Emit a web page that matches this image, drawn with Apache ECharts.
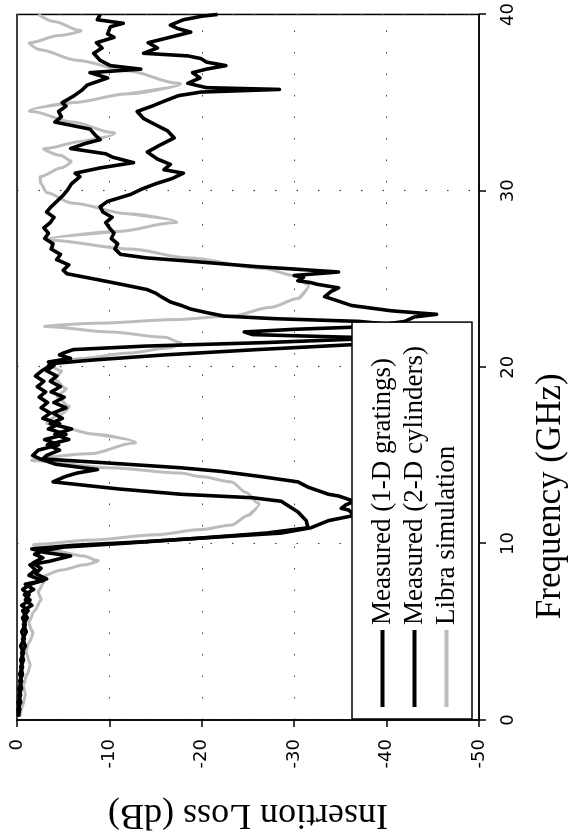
<!DOCTYPE html>
<html>
<head>
<meta charset="utf-8">
<script src="https://cdn.jsdelivr.net/npm/echarts/dist/echarts.min.js"></script>
<style>
html,body{margin:0;padding:0;background:#fff;overflow:hidden;width:576px;height:840px;}
#wrap{position:absolute;left:0;top:0;width:840px;height:576px;transform-origin:0 0;transform:translate(0,840px) rotate(-90deg);}
</style>
</head>
<body>
<div id="wrap"></div>
<script>
// Frequency axis (GHz) and insertion-loss axis (dB)
const freqTicks = [0, 10, 20, 30, 40];
const lossTicks = [0, -10, -20, -30, -40, -50];
const seriesNames = ['Measured (1-D gratings)', 'Measured (2-D cylinders)', 'Libra simulation'];

// Measured (1-D gratings)
const freq1 = [0.2,0.6,1.0,1.4,1.8,2.2,2.6,3.0,3.4,3.8,4.2,4.6,5.0,5.4,5.8,6.2,6.5,6.8,7.1,7.4,7.7,7.9,8.2,8.5,8.8,9.0,9.3,9.5,9.7,9.9,10.1,10.3,10.6,10.9,11.3,11.6,11.9,12.0,12.2,12.4,12.7,12.8,13.2,13.5,13.8,14.1,14.3,14.6,14.8,15.0,15.3,15.6,15.9,16.2,16.5,16.8,17.1,17.4,17.7,18.0,18.3,18.6,18.9,19.2,19.5,19.8,20.1,20.3,20.5,20.7,20.8,21.0,21.2,21.4,21.6,21.8,22.1,22.4,22.6,22.75,22.9,23.1,23.3,23.5,23.7,24.0,24.2,24.4,24.7,25.0,25.3,25.5,25.8,26.1,26.4,26.7,27.0,27.3,27.6,27.9,28.2,28.5,28.8,29.1,29.4,29.7,30.0,30.4,30.8,31.0,31.3,31.6,31.9,32.1,32.4,32.7,32.9,33.2,33.5,33.9,34.2,34.5,34.8,35.0,35.4,35.7,36.0,36.4,36.7,36.9,37.1,37.4,37.8,38.1,38.4,38.7,38.9,39.3,39.5,39.7,40.0];
const loss1 = [-0.1,-0.3,-0.1,-0.4,-0.2,-0.5,-0.3,-0.6,-0.4,-0.7,-0.4,-0.8,-0.5,-0.9,-0.6,-1.2,-0.5,-1.4,-0.8,-1.8,-0.9,-2.8,-1.3,-2.0,-1.4,-3.5,-5.8,-3.0,-1.6,-6.0,-13.5,-19.5,-28.6,-31.8,-33.7,-36.5,-35.9,-35.1,-35.6,-36.5,-34.8,-33.7,-31.5,-30.4,-26.4,-22.0,-17.7,-9.0,-2.8,-3.2,-4.6,-3.3,-5.6,-4.1,-5.9,-3.6,-4.9,-3.9,-5.3,-4.0,-5.1,-3.7,-4.7,-3.6,-4.3,-3.2,-4.0,-3.4,-5.8,-4.6,-5.0,-6.1,-14,-27,-37,-41,-42.5,-41,-37,-28,-22.4,-20.5,-18.8,-17.8,-16.6,-15.6,-15.0,-14.1,-11.3,-8.4,-5.4,-5.0,-5.6,-4.3,-4.7,-3.7,-3.9,-3.0,-3.4,-2.9,-3.6,-4.0,-3.2,-3.7,-4.3,-4.9,-5.4,-5.9,-6.8,-6.3,-9.0,-12.6,-10.4,-9.6,-5.8,-7.5,-9.0,-8.4,-7.9,-4.1,-4.8,-4.5,-5.3,-4.9,-6.2,-7.0,-7.6,-9.8,-7.9,-13.4,-10.1,-9.0,-8.3,-9.2,-8.6,-10.5,-9.8,-10.1,-11.5,-8.7,-9.0];

// Measured (2-D cylinders)
const freq2 = [0.2,0.6,1.0,1.4,1.8,2.2,2.6,3.0,3.4,3.8,4.2,4.6,5.0,5.4,5.8,6.2,6.5,6.8,7.1,7.4,7.7,8.0,8.3,8.6,8.9,9.2,9.4,9.6,9.8,10.0,10.3,10.6,10.9,11.3,11.8,12.1,12.4,12.6,12.8,13.1,13.5,13.8,14.0,14.2,14.5,14.8,15.0,15.3,15.6,15.9,16.2,16.5,16.8,17.1,17.4,17.7,18.0,18.3,18.6,18.9,19.2,19.5,19.8,20.0,20.2,20.4,20.7,21.0,21.3,21.5,21.7,21.85,22.0,22.15,22.3,22.6,22.85,23.0,23.2,23.5,23.8,24.0,24.3,24.5,24.7,24.8,24.9,25.1,25.2,25.4,25.6,25.7,26.0,26.2,26.4,26.7,27.0,27.3,27.6,27.9,28.2,28.5,28.8,29.1,29.4,29.8,30.1,30.4,30.7,31.0,31.2,31.5,31.8,32.2,32.6,33.0,33.4,33.8,34.1,34.5,34.8,35.1,35.4,35.6,35.75,35.85,36.1,36.4,36.7,36.9,37.1,37.3,37.5,37.65,37.8,38.1,38.4,38.7,39.0,39.2,39.4,39.7,39.9,40.0];
const loss2 = [-0.2,-0.1,-0.4,-0.2,-0.5,-0.3,-0.6,-0.4,-0.7,-0.5,-0.9,-0.6,-1.0,-0.7,-1.1,-0.6,-1.6,-0.9,-1.3,-0.6,-1.5,-3.2,-2.0,-2.6,-1.7,-2.8,-1.9,-2.9,-5.0,-11.0,-19.5,-27.0,-31.5,-31.3,-30.4,-29.5,-28.6,-25.5,-17.7,-11.0,-3.9,-5.2,-6.5,-8.7,-4.2,-2.5,-1.7,-2.3,-4.5,-3.0,-5.3,-3.4,-4.6,-2.8,-3.6,-2.6,-3.3,-2.4,-3.1,-2.2,-2.9,-2.0,-2.7,-3.3,-3.6,-8,-16,-26,-37,-41,-36,-25.5,-24.6,-30,-38,-42,-43,-45.4,-40.5,-36.2,-34.5,-33.3,-34,-34.8,-32.5,-31.8,-30.4,-31,-30.0,-34.8,-29,-26,-19,-14,-11.2,-10.6,-10.9,-10.2,-10.5,-10.0,-9.6,-10.3,-9.3,-9.0,-9.8,-12.3,-13.5,-15.0,-16.8,-18.0,-15.9,-16.6,-15.2,-14.1,-15.5,-17.0,-16.3,-14.8,-13.7,-13.0,-14.6,-16.0,-17.5,-19.9,-28.4,-20.5,-18.5,-19.8,-19.0,-20.5,-22.6,-20.5,-19.9,-18.5,-13.7,-15.2,-14.2,-16.5,-18.8,-17.4,-16.6,-18.0,-20.0,-21.7];

// Libra simulation
const freq3 = [0.2,0.8,1.4,2.0,2.6,3.2,3.8,4.4,5.0,5.6,6.2,6.8,7.3,7.8,8.1,8.5,8.8,9.05,9.3,9.6,9.95,10.2,10.5,10.8,11.05,11.6,12.3,12.9,13.5,13.8,14.0,14.3,14.7,15.1,15.7,16.2,16.8,17.3,17.8,18.3,18.8,19.3,19.8,20.2,20.5,20.8,21.1,21.4,21.7,22.0,22.3,22.5,22.7,22.9,23.4,23.9,24.7,25.2,25.6,26.2,26.7,27.2,27.7,28.2,28.7,29.3,29.9,30.4,30.8,31.3,31.7,32.0,32.4,32.8,33.3,33.9,34.5,35.0,35.5,36.1,36.8,37.4,38.0,38.4,38.8,39.1,39.6,40.0];
const loss3 = [-0.3,-0.6,-0.9,-0.7,-1.1,-1.4,-1.0,-1.3,-1.7,-1.3,-1.9,-2.6,-2.3,-2.9,-2.4,-4.8,-7.3,-8.7,-7.2,-4.0,-1.9,-8,-15,-19.9,-23.2,-25.0,-26.1,-24.8,-23.2,-19.9,-17.7,-10,-1.9,-8,-12.6,-8.5,-3.3,-4.6,-5.6,-4.4,-5.3,-4.1,-4.8,-3.6,-7,-12,-16.5,-17.7,-16,-10,-3.3,-9,-17,-23.2,-27.5,-30.4,-31.5,-30,-26.7,-18.5,-12.3,-3.6,-11,-17,-12,-6,-3.2,-2.6,-2.5,-4.8,-5.8,-4.8,-3.0,-7,-10.4,-6,-1.6,-6,-12,-17.4,-12,-6.5,-2.5,-1.4,-4.5,-6.8,-4,-2.3];

const zip = (fs, ls) => fs.map((f, i) => [f, ls[i]]);

const chart = echarts.init(document.getElementById('wrap'), null, {renderer: 'canvas', width: 840, height: 576});

const sansFont = 'DejaVu Sans';
const serifFont = 'Liberation Serif';

chart.setOption({
  animation: false,
  backgroundColor: '#ffffff',
  grid: {left: 115, right: 7, top: 17, bottom: 97, show: true, borderColor: '#000', borderWidth: 1.5, backgroundColor: 'transparent'},
  legend: {
    data: seriesNames,
    orient: 'vertical',
    left: 121,
    top: 352,
    padding: [17, 24, 12, 12],
    itemGap: 5,
    itemWidth: 77,
    itemHeight: 4,
    icon: 'rect',
    backgroundColor: '#fff',
    borderColor: '#000',
    borderWidth: 1.5,
    borderRadius: 0,
    textStyle: {fontFamily: serifFont, fontSize: 27, color: '#000'}
  },
  xAxis: {
    type: 'value', min: freqTicks[0], max: freqTicks[freqTicks.length - 1], interval: 10,
    name: 'Frequency (GHz)', nameLocation: 'middle', nameGap: 54,
    nameTextStyle: {fontFamily: serifFont, fontSize: 35, color: '#000', padding: [0, 258, 0, 0]},
    axisLine: {show: true, onZero: false, lineStyle: {color: '#000', width: 1.5}},
    axisTick: {show: true, inside: false, length: 7, lineStyle: {color: '#000', width: 1.5}},
    axisLabel: {fontFamily: sansFont, fontSize: 18, color: '#000', margin: 20},
    splitLine: {show: true, lineStyle: {type: [1.5, 20], color: '#444', width: 1.2}}
  },
  yAxis: {
    type: 'value', min: lossTicks[lossTicks.length - 1], max: lossTicks[0], interval: 10,
    name: 'Insertion Loss (dB)', nameLocation: 'middle', nameGap: 76, nameRotate: 90,
    nameTextStyle: {fontFamily: serifFont, fontSize: 36, color: '#000'},
    axisLine: {show: true, onZero: false, lineStyle: {color: '#000', width: 1.5}},
    axisTick: {show: true, inside: false, length: 7, lineStyle: {color: '#000', width: 1.5}},
    axisLabel: {fontFamily: sansFont, fontSize: 18, color: '#000', margin: 19},
    splitLine: {show: true, lineStyle: {type: [1.5, 20], color: '#444', width: 1.2}}
  },
  series: [
    {name: seriesNames[2], type: 'line', data: zip(freq3, loss3), smooth: 0.3, smoothMonotone: 'y', symbol: 'none', showSymbol: false, z: 2,
     itemStyle: {color: '#bcbcbc'}, lineStyle: {color: '#bcbcbc', width: 3}},
    {name: seriesNames[0], type: 'line', data: zip(freq1, loss1), symbol: 'none', showSymbol: false, z: 3,
     itemStyle: {color: '#000'}, lineStyle: {color: '#000', width: 3.6, join: 'round'}},
    {name: seriesNames[1], type: 'line', data: zip(freq2, loss2), symbol: 'none', showSymbol: false, z: 3,
     itemStyle: {color: '#000'}, lineStyle: {color: '#000', width: 3.6, join: 'round'}}
  ]
});
</script>
</body>
</html>
